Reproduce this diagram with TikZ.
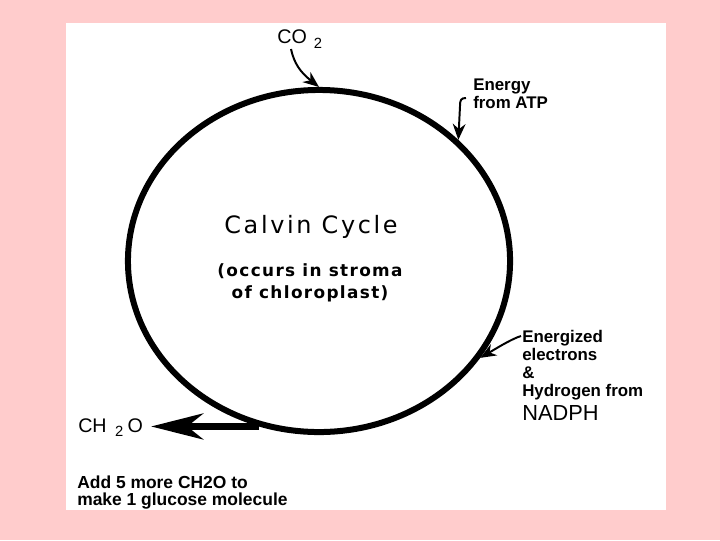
\documentclass[tikz,border=0pt]{standalone}
\usepackage{fontspec}
\setmainfont{Liberation Sans}
\newfontfamily\wideface{DejaVu Sans}
\usetikzlibrary{arrows.meta, positioning, calc, shapes.geometric}
\definecolor{slidepink}{RGB}{255,204,204}

\begin{document}
\begin{tikzpicture}[
    x=0.025cm, y=-0.025cm,
    cyclering/.style={
        draw,
        ellipse,
        line width=0.15cm,
        minimum width=9.55cm,
        minimum height=8.55cm,
        inner sep=0pt
    },
    note/.style={
        align=left,
        inner sep=0pt,
        font=\fontsize{12}{12.8}\selectfont\bfseries
    },
    formula/.style={
        inner sep=0pt,
        font=\fontsize{14}{14}\selectfont
    },
    feed/.style={
        line width=1.4pt,
        -{Stealth[length=4mm, width=3.2mm]}
    },
    product/.style={
        line width=0.17cm,
        -{Stealth[length=1.3cm, width=0.65cm, inset=0.4cm]}
    }
]

% Slide background
\fill[slidepink] (0,0) rectangle (720,540);
\fill[white] (66,23) rectangle (666,510);

% The cycle
\node[cyclering] (calvin) at (319,261) {};

\node[font=\wideface\fontsize{17}{17}\selectfont\addfontfeatures{LetterSpace=11}] (title) at (311,227)
{Calvin Cycle};

\node[align=center, inner sep=0pt,
      font=\wideface\fontsize{12}{15.6}\selectfont\bfseries\addfontfeatures{LetterSpace=8}] (place) at (310,283)
{(occurs in stroma\\
 of chloroplast)};

% Inputs
\node[formula, anchor=base west] (co2) at (277,43)
{CO\hspace{5pt}\raisebox{-4pt}{\fontsize{10.5}{10.5}\selectfont 2}};

\node[note, anchor=north west] (atp) at (473,79)
{Energy\\
from ATP};

\node[note, anchor=north west] (nadph) at (522,330)
{Energized\\
electrons\\
\&\\
Hydrogen from\\[3pt]
{\fontsize{15.5}{15.5}\selectfont\mdseries NADPH}};

\draw[feed] ($(co2.base west)+(14,6)$) .. controls +(3,14) and +(-19,-15) .. (calvin.90);
\draw[feed] ($(atp.north west)+(-7,19)$) .. controls +(-5,0) and +(0,-6) .. ++(-6,8) -- (calvin.41);
\draw[feed] ($(nadph.north west)+(-1,6)$) .. controls +(-10,3) and +(12,-7) .. (calvin.-31);

% Output
\node[formula, anchor=base west] (ch2o) at (78,432)
{CH\hspace{6pt}\raisebox{-3.5pt}{\fontsize{10.5}{10.5}\selectfont 2}\hspace{3pt}O};

\draw[product, shorten >=0.2cm] (calvin.-110) -- (calvin.-110 -| ch2o.east);

\node[note, anchor=north west, font=\fontsize{12.4}{11.6}\selectfont\bfseries] (glucose) at (77,476)
{Add 5 more CH2O to\\
make 1 glucose molecule};

\end{tikzpicture}
\end{document}
